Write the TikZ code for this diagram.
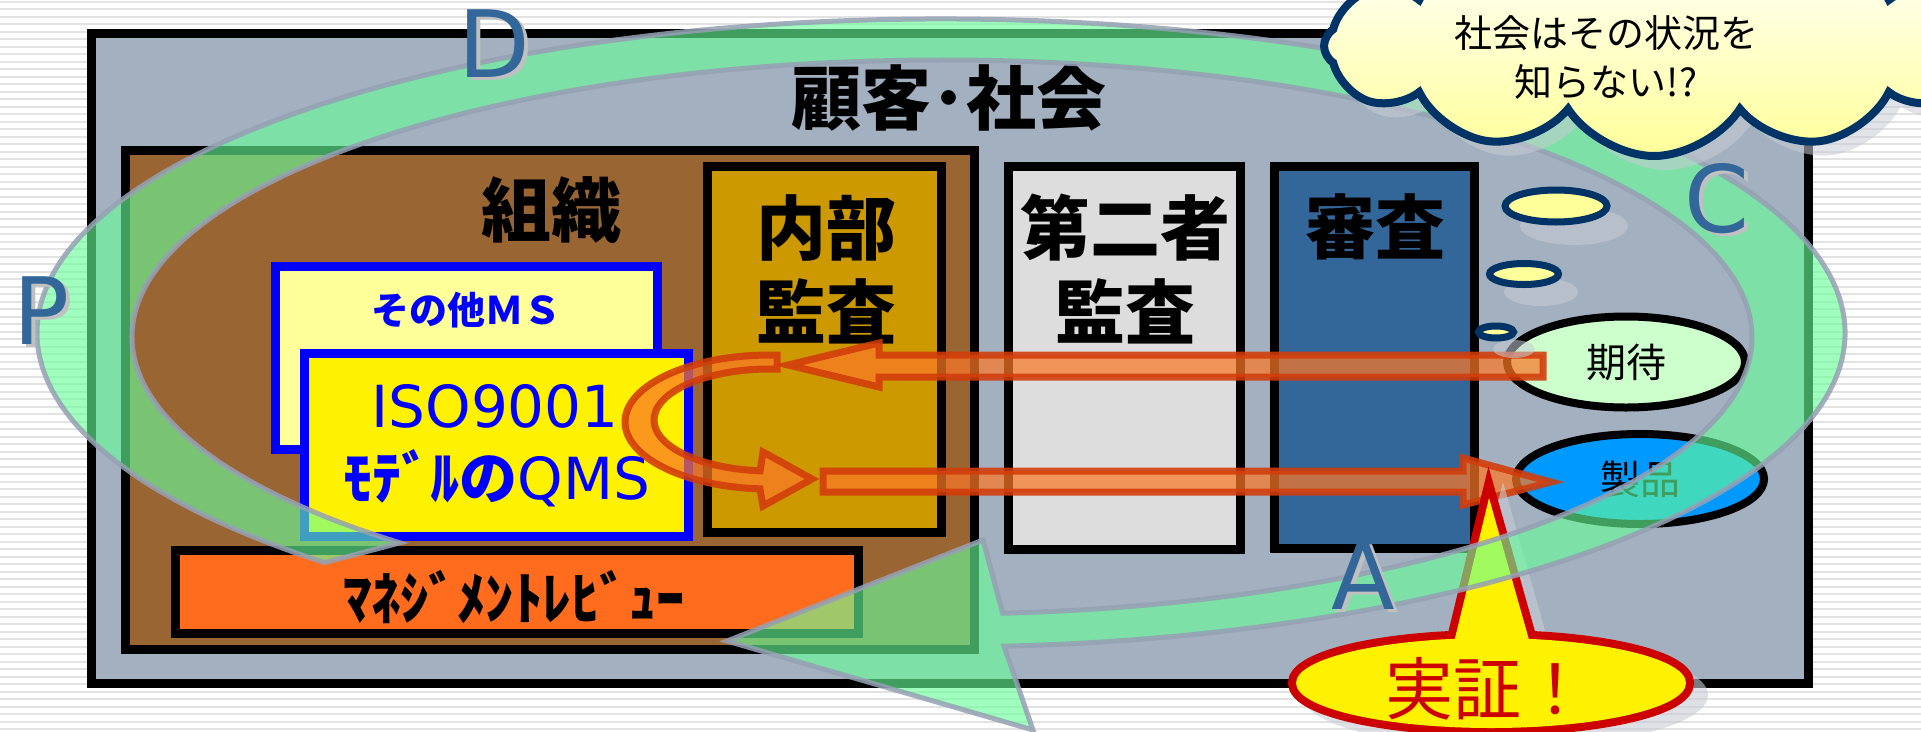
\documentclass[tikz,border=0pt]{standalone}
\usepackage{fontspec}
\setmainfont{Noto Sans CJK JP}
\newfontfamily\latinsans{DejaVu Sans}
\usetikzlibrary{shapes.geometric,shapes.symbols}

\definecolor{skygray}{RGB}{162,176,191}
\definecolor{orgbrown}{RGB}{153,102,51}
\definecolor{gold}{RGB}{204,153,0}
\definecolor{lightgraybox}{RGB}{221,221,221}
\definecolor{steel}{RGB}{51,102,153}
\definecolor{paleyellow}{RGB}{255,255,153}
\definecolor{mgmtorange}{RGB}{255,108,30}
\definecolor{palegreen}{RGB}{204,255,204}
\definecolor{skyblue}{RGB}{0,153,255}
\definecolor{navyline}{RGB}{0,51,102}
\definecolor{ringgreen}{RGB}{102,255,153}
\definecolor{ringedge}{RGB}{150,160,180}
\definecolor{arrfill}{RGB}{250,120,40}
\definecolor{arredge}{RGB}{210,60,10}
\definecolor{calloutred}{RGB}{204,0,0}
\definecolor{stripe}{RGB}{226,226,226}
\definecolor{shadowgray}{RGB}{200,204,212}
\definecolor{lettershadow}{RGB}{192,192,192}

\begin{document}
\begin{tikzpicture}[x=1pt,y=-1pt,
  box/.style={rectangle, draw=black, line width=9pt, inner sep=0pt},
  bluebox/.style={rectangle, draw=blue, line width=9pt, inner sep=0pt},
  biglabel/.style={font=\fontsize{70}{84}\selectfont\bfseries, align=center, inner sep=0pt},
  oval/.style={ellipse, draw=black, line width=8pt, inner sep=0pt, font=\fontsize{40}{40}\selectfont},
  thought/.style={draw=navyline, line width=7pt, fill=paleyellow},
  bubbleshadow/.style={fill=shadowgray, opacity=0.55},
  orangearrow/.style={fill=arrfill, fill opacity=0.72, draw=arredge, draw opacity=0.88, line width=7pt, line join=miter},
  ring/.style={fill=ringgreen, fill opacity=0.62, draw=ringedge, draw opacity=0.85, line width=5pt, line join=miter},
  pdca/.style={font=\latinsans\fontsize{93}{93}\selectfont, text=steel, inner sep=0pt},
  pdcashadow/.style={font=\latinsans\fontsize{93}{93}\selectfont, text=lettershadow, inner sep=0pt},
  cloudbody/.style={cloud, cloud puffs=12, cloud puff arc=115, cloud ignores aspect, minimum width=660pt, minimum height=220pt, inner sep=0pt}
]
\useasboundingbox (0,0) rectangle (1921,731);
\clip (0,0) rectangle (1921,731);

% striped background
\fill[white] (0,0) rectangle (1921,731);
\foreach \k in {0,...,97} \fill[stripe] (0,{0.5+7.5*\k}) rectangle (1921,{2.9+7.5*\k});

% boxes
\node[box, fill=skygray, minimum width=1717pt, minimum height=650pt] (society) at (950,358.5) {};
\node[box, fill=orgbrown, minimum width=849pt, minimum height=499pt] (org) at (550,400) {};
\node[box, fill=gold, minimum width=234pt, minimum height=366pt] (internal) at (824.5,349.5) {};
\node[box, fill=lightgraybox, minimum width=232pt, minimum height=383pt] (second) at (1124.5,358) {};
\node[box, fill=steel, minimum width=200pt, minimum height=382pt] (certif) at (1374.5,357.5) {};
\node[bluebox, fill=paleyellow, minimum width=382pt, minimum height=183pt] (otherms) at (466.5,358) {};
\node[bluebox, fill=yellow, minimum width=384pt, minimum height=183pt] (iso) at (496.5,445) {};
\node[box, fill=mgmtorange, minimum width=683pt, minimum height=83pt] (mgmt) at (517,592) {};

% labels
\node[biglabel] (societylbl) at (949,98) {顧客･社会};
\node[biglabel] (orglbl) at (551,210) {組織};
\node[biglabel] (internallbl) at (826,269) {内部\\監査};
\node[biglabel] (secondlbl) at (1125,269) {第二者\\監査};
\node[biglabel] (certiflbl) at (1375,227) {審査};
\node[inner sep=0pt, text=blue, font=\fontsize{38}{38}\selectfont\bfseries] (othermslbl) at (466,310) {その他ＭＳ};
\node[inner sep=0pt, text=blue, font=\latinsans\fontsize{58}{58}\selectfont] (isolbl) at (495,406) {ISO9001};
\node[inner sep=0pt, text=blue, font=\fontsize{58}{58}\selectfont] (qmslbl) at (497,478) {{\bfseries ﾓﾃﾞﾙの}{\latinsans QMS}};
\node[inner sep=0pt, font=\fontsize{57}{57}\selectfont\bfseries] (mgmtlbl) at (514,597) {ﾏﾈｼﾞﾒﾝﾄﾚﾋﾞｭｰ};

% expectation / product
\node[oval, fill=palegreen, minimum width=238pt, minimum height=91pt] (expect) at (1626,362) {期待};
\node[oval, fill=skyblue, minimum width=248pt, minimum height=90pt] (product) at (1640,479) {製品};

% orange arrows: expectation -> internal audit, U-turn, internal audit -> product
\draw[orangearrow] (1543,355) -- (879,355) -- (879,343) -- (788,365) -- (879,387) -- (879,377) -- (1543,377) -- cycle;
\draw[orangearrow] (777.1,355.1) arc[start angle=272.8, end angle=94, x radius=145, y radius=67]
  -- (763,506) -- (812,479) -- (763,452) -- (760.1,470.8)
  arc[start angle=94.9, end angle=273.5, x radius=116, y radius=51] -- cycle;
\draw[orangearrow] (823,471) -- (1463,471) -- (1463,458) -- (1551,482) -- (1463,505) -- (1463,492) -- (823,492) -- cycle;

% callout 実証
\begin{scope}[shift={(14,12)}]
  \fill[shadowgray, opacity=0.6] (1491,683) ellipse[x radius=203, y radius=53];
  \fill[shadowgray, opacity=0.6] (1432,700) -- (1489,470) -- (1554,700) -- cycle;
\end{scope}
\draw[calloutred, line width=16pt, line join=miter] (1491,683) ellipse[x radius=195, y radius=45];
\draw[calloutred, line width=16pt, line join=miter] (1440,700) -- (1489,498) -- (1546,700) -- cycle;
\fill[yellow] (1491,683) ellipse[x radius=195, y radius=45];
\fill[yellow] (1440,700) -- (1489,498) -- (1546,700) -- cycle;
\node[inner sep=0pt, text=calloutred, font=\fontsize{68}{68}\selectfont] (demo) at (1487,689) {実証！};

% PDCA ring
\path[ring] (324.5,562.6) arc[start angle=133, end angle=446, x radius=904, y radius=314]
  -- (1033,730) -- (727,641) -- (983,540) -- (1002.7,613.2)
  arc[start angle=445.7, end angle=132, x radius=810, y radius=277] -- (324.5,562.6) -- cycle;

% thought bubbles
\fill[bubbleshadow] (1574,226) ellipse[x radius=54, y radius=19];
\fill[bubbleshadow] (1541,292) ellipse[x radius=37, y radius=14];
\fill[bubbleshadow] (1514,349) ellipse[x radius=21, y radius=9];
\draw[thought] (1556,206) ellipse[x radius=51, y radius=16];
\draw[thought] (1524,274) ellipse[x radius=34.5, y radius=10.5];
\draw[thought] (1496,332) ellipse[x radius=17.5, y radius=6];

% cloud
\node[cloudbody, fill=shadowgray, opacity=0.55] (cloudshadow) at (1666,60) {};
\node[cloudbody, draw=navyline, line width=8pt, top color=white, bottom color=paleyellow] (cloud) at (1654,46) {};
\node[inner sep=0pt, align=center, font=\fontsize{38}{49}\selectfont] (cloudtext) at (1606,57.5) {社会はその状況を\\知らない!?};

% PDCA letters
\node[pdcashadow] at (46,314) {P};
\node[pdca] (P) at (42,311) {P};
\node[pdcashadow] at (498,47) {D};
\node[pdca] (D) at (494,44) {D};
\node[pdcashadow] at (1721,202) {C};
\node[pdca] (C) at (1717,199) {C};
\node[pdcashadow] at (1367,579) {A};
\node[pdca] (A) at (1363,576) {A};
\end{tikzpicture}
\end{document}
